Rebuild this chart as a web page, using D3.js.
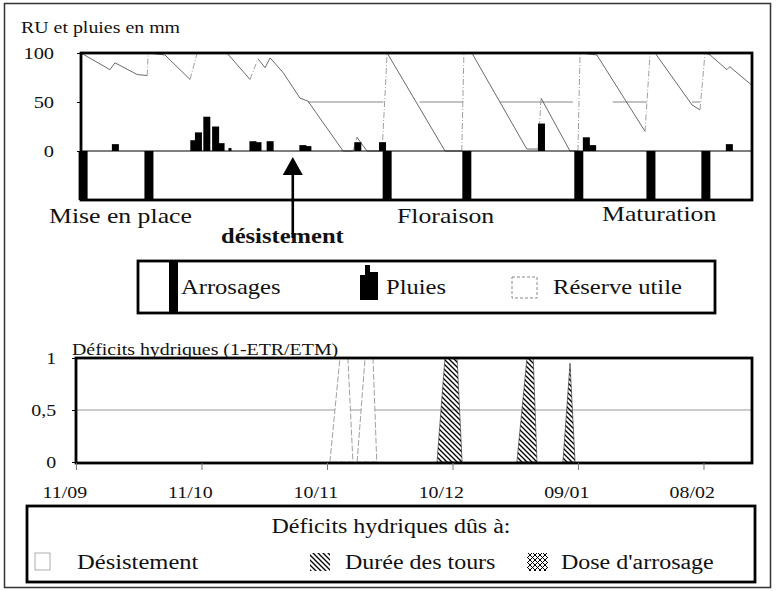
<html>
<head>
<meta charset="utf-8">
<script src="https://cdnjs.cloudflare.com/ajax/libs/d3/7.8.5/d3.min.js"></script>
<style>
body { margin: 0; background: #fff; }
text { font-family: "Liberation Serif", "Times New Roman", serif; fill: #111; }
</style>
</head>
<body>
<script>

// jours comptés depuis le 11/09
var arrosageJours = [0.5, 16.2, 73.0, 92.0, 118.7, 135.9, 149.0]
var arrosageDose  = [50, 50, 50, 50, 50, 50, 50]

var pluieJours = [8.2, 26.9, 28.0, 30.0, 32.1, 33.4, 36.0, 41.0, 42.2, 45.1, 52.9, 54.1, 66.0, 71.9, 109.8, 120.5, 122.0, 154.6]
var pluieMm    = [7, 11, 19, 35, 25, 8, 3, 10, 9, 10, 6, 5, 9, 9, 28, 14, 6, 7]

var ruJours = [0, 6.9, 8.1, 13.4, 15.8, 16.0, 20.0, 26.0, 27.7, 34.8, 40.3, 42.2, 43.9, 45.1, 48.2, 52.2, 54.1, 62.5, 64.9, 65.8, 68.2, 71.8, 73.0, 86.8, 90.8, 91.3, 93.2, 106.3, 109.0, 109.7, 116.6, 118.5, 119.0, 123.0, 134.5, 135.7, 136.9, 145.7, 147.6, 148.8, 150.0, 154.0, 154.7, 160.0]
var ruMm    = [100, 83, 90, 78, 77, 100, 98, 73, 100, 100, 73, 94, 85, 95, 80, 54, 51, 0, 0, 14, 0, 0, 100, 0, 0, 100, 100, 2, 2, 54, 0, 0, 100, 98, 20, 100, 100, 47, 42, 100, 98, 83, 86, 67]

var seuilDebut = [54.1, 80.8, 99.9, 126.8, 145.7]
var seuilFin   = [72.1, 91.1, 117.3, 134.9, 147.6]
var seuilMm = 50

var desistJours = [[60.7, 63.1, 65.0, 66.2], [67.2, 69.1, 71.0, 71.9]]
var desistDef   = [[0, 1, 1, 0], [0, 1, 1, 0]]
var toursJours  = [[86.3, 88.2, 91.1, 92.3], [105.4, 107.8, 109.3, 110.2], [116.4, 118.1, 119.3]]
var toursDef    = [[0, 1, 1, 0], [0, 1, 1, 0], [0, 0.95, 0]]

var tickJours  = [0, 30, 60, 90, 120, 150]
var tickLabels = ["11/09", "11/10", "10/11", "10/12", "09/01", "08/02"]
var desistJour = 50.5

var svg = d3.select("body").append("svg").attr("width", 777).attr("height", 591)

var defs = svg.append("defs")
var hatch = defs.append("pattern").attr("id", "hatch").attr("patternUnits", "userSpaceOnUse")
  .attr("width", 5).attr("height", 5)
hatch.append("path").attr("d", "M0,0L5,5M-1,4L1,6M4,-1L6,1").attr("stroke", "#000").attr("stroke-width", 1.3)
var cross = defs.append("pattern").attr("id", "cross").attr("patternUnits", "userSpaceOnUse")
  .attr("width", 5).attr("height", 5)
cross.append("path").attr("d", "M0,0L5,5M-1,4L1,6M4,-1L6,1M0,5L5,0M-1,1L1,-1M4,6L6,4").attr("stroke", "#000").attr("stroke-width", 1)

function txt(x, y, s, size, weight, anchor) {
  return svg.append("text")
    .attr("transform", "translate(" + x + "," + y + ") scale(1.17,1)")
    .attr("font-size", size)
    .attr("font-weight", weight || "normal")
    .attr("text-anchor", anchor || "start")
    .text(s)
}

// cadre général
svg.append("rect").attr("x", 4.5).attr("y", 3.5).attr("width", 766).attr("height", 584)
  .attr("fill", "none").attr("stroke", "#333").attr("stroke-width", 1.5)

// ---------- graphe du haut ----------
var xTop = d3.scaleLinear().domain([0, 160]).range([81, 752])
var yTop = d3.scaleLinear().domain([-50, 100]).range([200, 53])

txt(21, 33, "RU et pluies en mm", 17)

var yAx = svg.append("g").attr("transform", "translate(81,0)")
  .call(d3.axisLeft(yTop).tickValues([0, 50, 100]).tickSize(4).tickPadding(19))
yAx.select(".domain").remove()
yAx.selectAll("text").attr("font-size", 17.5).attr("font-family", "Liberation Serif").attr("fill", "#111")
  .attr("transform", "scale(1.17,1)")

// seuil à 50
seuilDebut.forEach(function(d, i) {
  svg.append("line").attr("x1", xTop(d)).attr("x2", xTop(seuilFin[i]))
    .attr("y1", yTop(seuilMm)).attr("y2", yTop(seuilMm))
    .attr("stroke", "#777").attr("stroke-width", 0.9)
})

// réserve utile
for (var i = 0; i < ruJours.length - 1; i++) {
  var monte = ruMm[i + 1] - ruMm[i] > 10
  svg.append("line")
    .attr("x1", xTop(ruJours[i])).attr("y1", yTop(ruMm[i]))
    .attr("x2", xTop(ruJours[i + 1])).attr("y2", yTop(ruMm[i + 1]))
    .attr("stroke", monte ? "#888" : "#444")
    .attr("stroke-width", 0.8)
    .attr("stroke-dasharray", monte ? "6,2,1,2" : null)
}

// ligne du zéro
svg.append("line").attr("x1", 81).attr("x2", 752).attr("y1", yTop(0)).attr("y2", yTop(0))
  .attr("stroke", "#000").attr("stroke-width", 1.2)

// pluies
svg.selectAll(".pluie").data(pluieJours).enter().append("rect")
  .attr("class", "pluie")
  .attr("x", function(d) { return xTop(d) - 3.5 })
  .attr("width", function(d, i) { return pluieMm[i] < 4 ? 3 : 7 })
  .attr("y", function(d, i) { return yTop(pluieMm[i]) })
  .attr("height", function(d, i) { return yTop(0) - yTop(pluieMm[i]) })
  .attr("fill", "#000")

// arrosages
svg.selectAll(".arrosage").data(arrosageJours).enter().append("rect")
  .attr("class", "arrosage")
  .attr("x", function(d) { return xTop(d) - 4.5 })
  .attr("width", 9)
  .attr("y", yTop(0))
  .attr("height", function(d, i) { return yTop(-arrosageDose[i]) - yTop(0) })
  .attr("fill", "#000")

svg.append("rect").attr("x", 81).attr("y", 53).attr("width", 671).attr("height", 147)
  .attr("fill", "none").attr("stroke", "#000").attr("stroke-width", 2.8)

// phases et désistement
txt(49, 223, "Mise en place", 22)
txt(397, 223, "Floraison", 22)
txt(602, 221, "Maturation", 22)
txt(221, 243, "désistement", 21, "bold")

var ax = xTop(desistJour)
svg.append("line").attr("x1", ax).attr("x2", ax).attr("y1", 238).attr("y2", 172)
  .attr("stroke", "#000").attr("stroke-width", 2.6)
svg.append("path").attr("d", "M" + (ax - 10) + ",175L" + (ax + 10) + ",175L" + ax + ",157Z").attr("fill", "#000")

// ---------- légende 1 ----------
svg.append("rect").attr("x", 138).attr("y", 261).attr("width", 577).attr("height", 52)
  .attr("fill", "none").attr("stroke", "#000").attr("stroke-width", 2.8)
svg.append("rect").attr("x", 169).attr("y", 261).attr("width", 9).attr("height", 52).attr("fill", "#000")
txt(181, 294, "Arrosages", 21)
svg.append("rect").attr("x", 360).attr("y", 275).attr("width", 5).attr("height", 25).attr("fill", "#000")
svg.append("rect").attr("x", 365).attr("y", 265).attr("width", 5).attr("height", 35).attr("fill", "#000")
svg.append("rect").attr("x", 370).attr("y", 272).attr("width", 8).attr("height", 28).attr("fill", "#000")
txt(386, 294, "Pluies", 21)
svg.append("rect").attr("x", 512).attr("y", 277).attr("width", 25).attr("height", 21)
  .attr("fill", "none").attr("stroke", "#888").attr("stroke-dasharray", "3,2")
txt(553, 294, "Réserve utile", 21)

// ---------- graphe du bas ----------
var xBot = d3.scaleLinear().domain([0, 161.6]).range([76, 752])
var yBot = d3.scaleLinear().domain([0, 1]).range([462, 358])

svg.append("line").attr("x1", 76).attr("x2", 752).attr("y1", yBot(0.5)).attr("y2", yBot(0.5))
  .attr("stroke", "#999").attr("stroke-width", 1)

var aire = d3.area().x(function(d) { return xBot(d[0]) }).y0(yBot(0)).y1(function(d) { return yBot(d[1]) })

desistJours.forEach(function(j, k) {
  svg.append("path").datum(j.map(function(d, i) { return [d, desistDef[k][i]] }))
    .attr("d", aire).attr("fill", "#fff").attr("stroke", "#888")
    .attr("stroke-width", 0.8).attr("stroke-dasharray", "6,2")
})
toursJours.forEach(function(j, k) {
  svg.append("path").datum(j.map(function(d, i) { return [d, toursDef[k][i]] }))
    .attr("d", aire).attr("fill", "url(#hatch)").attr("stroke", "#222").attr("stroke-width", 0.6)
})

svg.append("rect").attr("x", 76).attr("y", 358).attr("width", 676).attr("height", 105)
  .attr("fill", "none").attr("stroke", "#000").attr("stroke-width", 2.8)

txt(72, 355, "Déficits hydriques (1-ETR/ETM)", 17)

var yAx2 = svg.append("g").attr("transform", "translate(76,0)")
  .call(d3.axisLeft(yBot).tickValues([0, 0.5, 1]).tickSize(4).tickPadding(13)
    .tickFormat(function(d) { return d == 0.5 ? "0,5" : d }))
yAx2.select(".domain").remove()
yAx2.selectAll("text").attr("font-size", 17).attr("font-family", "Liberation Serif").attr("fill", "#111")
  .attr("transform", "scale(1.17,1)")

var xAx = svg.append("g").attr("transform", "translate(0,463)")
  .call(d3.axisBottom(xBot).tickValues(tickJours).tickSize(7).tickPadding(16)
    .tickFormat(function(d, i) { return tickLabels[i] }))
xAx.select(".domain").remove()
xAx.selectAll("line").attr("stroke", "#777")
xAx.selectAll("text").attr("font-size", 17).attr("font-family", "Liberation Serif").attr("fill", "#111")
  .attr("dx", -10).attr("transform", "scale(1.17,1)")

// ---------- légende 2 ----------
svg.append("rect").attr("x", 27).attr("y", 506).attr("width", 728).attr("height", 76)
  .attr("fill", "none").attr("stroke", "#000").attr("stroke-width", 2.8)
txt(391, 533, "Déficits hydriques dûs à:", 20.5, "normal", "middle")
svg.append("rect").attr("x", 35).attr("y", 553).attr("width", 15).attr("height", 17)
  .attr("fill", "none").attr("stroke", "#999").attr("stroke-width", 0.8)
txt(77, 569, "Désistement", 21)
svg.append("rect").attr("x", 310).attr("y", 553).attr("width", 20).attr("height", 18).attr("fill", "url(#hatch)")
txt(345, 569, "Durée des tours", 20.5)
svg.append("rect").attr("x", 527).attr("y", 553).attr("width", 21).attr("height", 18).attr("fill", "url(#cross)")
txt(561, 569, "Dose d'arrosage", 20.5)

</script>
</body>
</html>
